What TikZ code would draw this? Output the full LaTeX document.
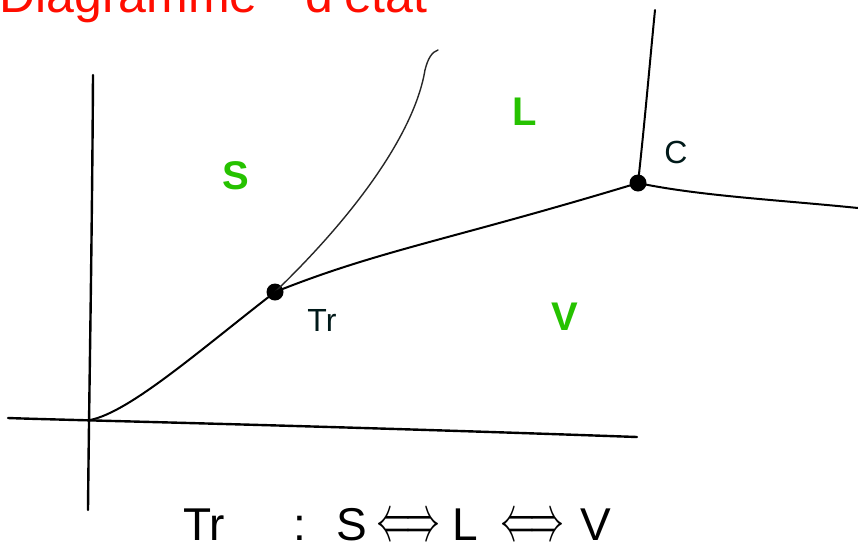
\documentclass[tikz,border=0pt]{standalone}
\usepackage{fontspec}
\setmainfont{Liberation Sans}
\usepackage{graphicx}
\begin{document}
\begin{tikzpicture}[x=1pt,y=-1pt,
  axis/.style={line width=2.4pt,black,line cap=round},
  curve/.style={line width=2pt,black,line cap=round},
  thin curve/.style={line width=1.4pt,black!85,line cap=round},
  phase/.style={text=green!70!black!80!lime,font=\fontsize{40}{40}\selectfont\bfseries},
  pointlbl/.style={text=black!80!teal,font=\fontsize{32}{32}\selectfont},
  bottom/.style={font=\fontsize{46}{46}\selectfont,inner sep=0pt},
  title/.style={text=red!90!orange,font=\fontsize{50}{50}\selectfont,inner sep=0pt},
  dotpt/.style={circle,fill=black,inner sep=0pt,minimum size=17pt}]
\useasboundingbox (0,0) rectangle (858,552);
\clip (0,0) rectangle (858,552);
\fill[white] (0,0) rectangle (858,552);
% title (cut off at the top edge, as in the reference)
\node[title,anchor=base east] (t1) at (258,12) {Diagramme};
\node[title,anchor=base west] (t2) at (305,12) {d'état};
% key points
\coordinate (O) at (90,420);
\node[dotpt] (Tr) at (275,292) {};
\node[dotpt] (C) at (638,183) {};
\coordinate (vtop) at (93,75);
\coordinate (vbot) at (88,510);
\coordinate (hl) at (8,418);
\coordinate (hr) at (637,437);
\coordinate (sl) at (438,50);
\coordinate (ctop) at (655,10);
\coordinate (cright) at (858,208);
% axes
\draw[axis] (vtop) .. controls (92,250) and (89,400) .. (vbot);
\draw[axis] (hl) .. controls (60,420) and (300,425) .. (hr);
% sublimation curve
\draw[curve] (O) .. controls (130,412) and (200,350) .. (Tr.center);
% fusion curve
\draw[thin curve] (Tr.center) .. controls (360,210) and (415,130) .. (425,70) .. controls (428,58) and (432,52) .. (sl);
% vaporisation curve
\draw[curve] (Tr.center) .. controls (380,250) and (450,240) .. (C.center);
% critical lines
\draw[curve] (C.center) .. controls (645,120) and (650,60) .. (ctop);
\draw[curve] (C.center) .. controls (700,196) and (780,200) .. (cright);
% labels
\node[phase] (S) at (236,176) {S};
\node[phase] (L) at (525,112) {L};
\node[phase] (V) at (565,317) {V};
\node[pointlbl] (Cl) at (676,152) {C};
\node[pointlbl] (Trl) at (322,320) {Tr};
% bottom
\node[bottom,anchor=base west] (b1) at (183,540) {Tr};
\node[bottom,anchor=base] (b2) at (300,540) {:};
\node[bottom,anchor=base west] (b3) at (336,540) {S};
\node[bottom,anchor=base] (b4) at (408,540) {\resizebox{64pt}{24pt}{$\Longleftrightarrow$}};
\node[bottom,anchor=base west] (b5) at (452,540) {L};
\node[bottom,anchor=base] (b6) at (532,540) {\resizebox{64pt}{24pt}{$\Longleftrightarrow$}};
\node[bottom,anchor=base west] (b7) at (580,540) {V};
\end{tikzpicture}
\end{document}
